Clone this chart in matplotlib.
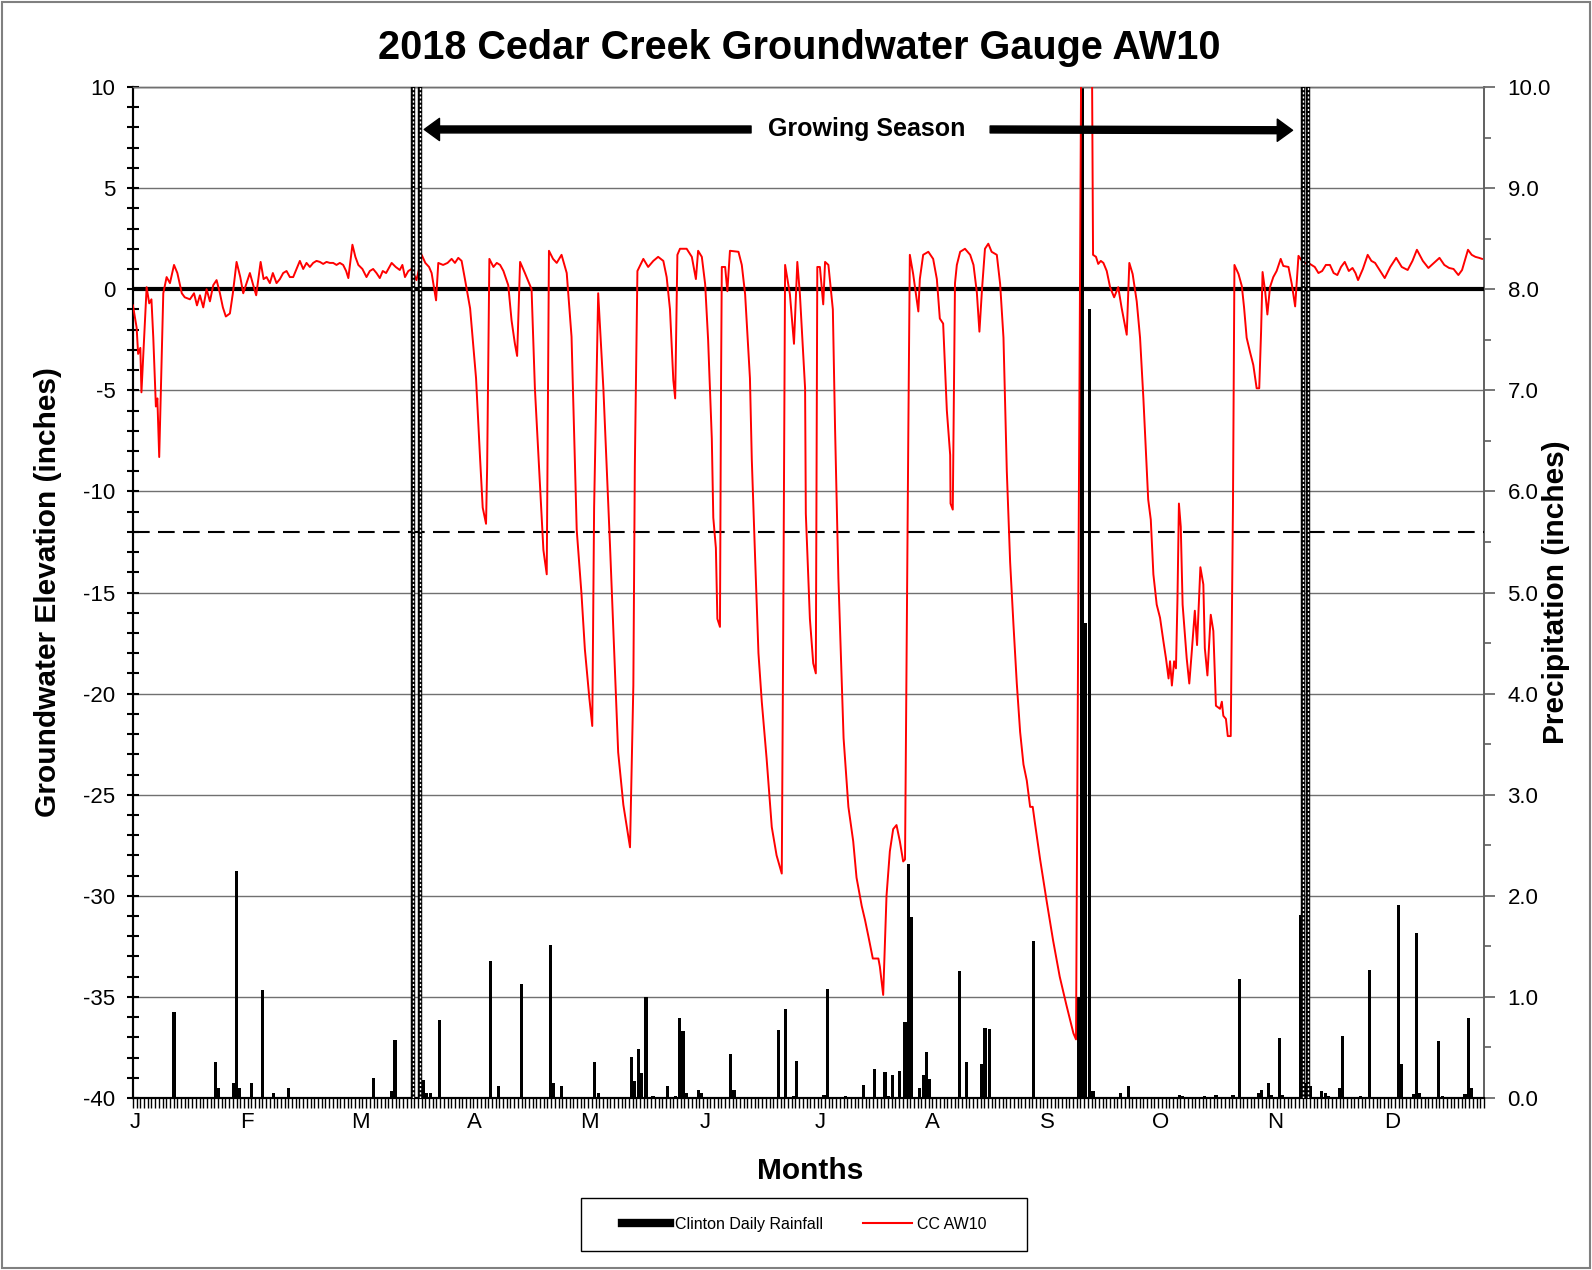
import matplotlib
matplotlib.use('Agg')
import matplotlib.pyplot as plt
from matplotlib.lines import Line2D
from matplotlib.patches import Rectangle
from matplotlib.ticker import MultipleLocator, FixedLocator, FormatStrFormatter
import numpy as np

plt.rcParams['font.family'] = ['Liberation Sans', 'DejaVu Sans']
plt.rcParams['axes.unicode_minus'] = False

# ---------------- data ----------------
month_labels = ['J', 'F', 'M', 'A', 'M', 'J', 'J', 'A', 'S', 'O', 'N', 'D']

gw_day = [0.0, 1.0, 1.4, 2.0, 2.3, 3.7, 4.4, 5.0, 5.5, 6.2, 6.6, 7.1, 8.2, 9.1, 10.0, 11.1, 12.0,
          13.2, 14.0, 15.4, 16.5, 17.3, 18.1, 19.0, 19.9, 20.8, 21.7, 22.6, 23.5, 24.3, 25.1,
          26.2, 27.0, 28.0, 29.0, 29.8, 30.7, 31.6, 32.5, 33.3, 34.5, 35.3, 36.1, 37.0, 37.8,
          38.8, 39.7, 40.6, 41.5, 42.4, 43.3, 44.2, 45.1, 46.0, 46.9, 47.8, 48.7, 49.6, 50.5,
          51.4, 52.3, 53.2, 54.1, 55.0, 55.9, 56.8, 57.6, 58.2, 59.3, 60.1, 60.9, 62.0, 63.1,
          64.0, 64.9, 65.8, 66.7, 67.5, 68.4, 69.9, 71.0, 72.1, 72.8, 73.5, 74.4, 75.3, 76.0,
          76.6, 77.3, 78.0, 79.0, 80.0, 80.7, 81.9, 82.5, 83.8, 85.0, 86.1, 87.0, 87.9, 88.8,
          89.7, 91.1, 92.7, 93.8, 94.5, 95.4, 95.7, 96.3, 97.4, 98.3, 99.2, 100.1, 101.4, 102.3,
          103.2, 103.8, 104.6, 105.9, 106.8, 107.7, 108.6, 110.0, 110.9, 111.8, 112.4, 113.5,
          114.5, 115.8, 117.2, 118.5, 119.9, 121.2, 122.1, 123.3, 124.1, 124.6, 125.7, 127.1,
          128.9, 131.1, 132.5, 134.3, 135.2, 135.6, 136.3, 137.9, 139.2, 140.6, 141.9, 143.3,
          144.2, 145.1, 146.0, 146.5, 147.1, 147.8, 149.6, 151.0, 152.1, 152.7, 153.7, 154.6,
          155.4, 156.4, 156.8, 157.5, 157.9, 158.6, 158.9, 159.1, 160.0, 160.6, 161.3, 163.6,
          164.5, 165.4, 166.7, 167.2, 168.1, 169.0, 169.9, 171.2, 172.6, 173.9, 175.3, 175.7,
          176.2, 177.5, 178.6, 179.5, 180.2, 181.6, 181.8, 182.9, 183.8, 184.5, 184.9, 185.6,
          186.5, 187.0, 187.9, 189.1, 189.7, 190.6, 192.0, 193.3, 194.6, 195.5, 196.9, 197.8,
          198.7, 199.9, 201.4, 201.8, 202.7, 203.6, 204.5, 205.4, 206.3, 207.2, 208.1, 208.6,
          209.5, 209.9, 210.8, 212.2, 212.6, 213.5, 214.9, 216.2, 217.2, 218.0, 218.9, 219.9,
          220.8, 220.9, 221.5, 222.1, 222.6, 223.5, 224.8, 226.2, 227.1, 228.0, 228.7, 229.4,
          230.2, 231.1, 232.0, 233.4, 234.3, 235.2, 236.1, 237.0, 237.9, 238.8, 239.7, 240.6,
          241.5, 242.4, 243.1, 243.7, 245.1, 246.9, 248.6, 250.4, 252.2, 254.1, 254.8, 256.3,
          259.0, 259.4, 260.2, 260.8, 261.5, 262.2, 263.1, 264.0, 265.1, 266.2, 267.1, 268.5,
          269.2, 270.1, 271.2, 272.1, 273.0, 274.3, 275.0, 275.7, 276.6, 277.5, 278.4, 279.1,
          279.8, 280.2, 280.7, 281.3, 281.8, 282.2, 282.6, 283.1, 283.6, 284.7, 285.4, 286.0,
          286.9, 287.5, 288.4, 289.2, 289.6, 290.3, 291.2, 291.9, 292.6, 293.7, 294.2, 294.6,
          295.3, 295.8, 296.6, 297.2, 297.6, 298.7, 299.6, 300.2, 300.9, 301.8, 302.7, 303.6,
          304.3, 304.8, 305.2, 305.9, 306.5, 307.2, 308.1, 309.0, 310.1, 310.8, 312.2, 313.1,
          314.0, 314.9, 316.2, 318.0, 319.3, 320.3, 321.3, 322.3, 323.4, 324.4, 325.4, 326.4,
          327.4, 328.5, 329.5, 330.3, 331.0, 332.3, 333.6, 334.6, 335.6, 337.0, 338.2, 339.7,
          341.3, 342.8, 344.4, 345.7, 346.9, 348.5, 350.0, 351.5, 353.0, 354.3, 355.6, 356.8,
          358.1, 359.1, 360.7, 361.7, 362.7, 363.7, 364.5]
gw_level = [-0.8, -1.9, -3.2, -2.9, -5.1, 0.1, -0.7, -0.5, -2.4, -5.8, -5.4, -8.3, -0.2, 0.6, 0.3, 1.2, 0.8,
            -0.2, -0.4, -0.5, -0.2, -0.8, -0.3, -0.9, 0.0, -0.6, 0.2, 0.45, -0.2, -0.9, -1.35,
            -1.2, -0.2, 1.35, 0.6, -0.2, 0.3, 0.8, 0.2, -0.3, 1.35, 0.5, 0.6, 0.3, 0.8,
            0.3, 0.5, 0.8, 0.9, 0.6, 0.6, 1.0, 1.4, 1.0, 1.3, 1.1, 1.3, 1.4, 1.35,
            1.25, 1.35, 1.3, 1.3, 1.2, 1.3, 1.2, 0.9, 0.55, 2.2, 1.6, 1.2, 1.0, 0.6,
            0.9, 1.0, 0.8, 0.55, 0.9, 0.8, 1.3, 1.1, 0.95, 1.2, 0.6, 0.9, 1.0, 0.7,
            0.45, 1.0, 1.7, 1.3, 1.1, 0.8, -0.55, 1.3, 1.2, 1.3, 1.5, 1.3, 1.55, 1.4,
            0.5, -0.95, -4.4, -8.4, -10.8, -11.6, -8.8, 1.5, 1.1, 1.3, 1.2, 0.9, 0.2, -1.55,
            -2.7, -3.3, 1.35, 0.8, 0.4, 0.0, -4.9, -9.8, -12.9, -14.1, 1.9, 1.5,
            1.3, 1.7, 0.8, -2.35, -11.9, -15.1, -17.8, -20.2, -21.6, -10.8, -0.2, -4.9,
            -12.7, -22.9, -25.5, -27.6, -19.6, -8.8, 0.9, 1.5, 1.1, 1.4, 1.6, 1.4,
            0.6, -1.0, -4.5, -5.4, 1.7, 2.0, 2.0, 1.6, 0.5, 1.9, 1.6, 0.25,
            -2.5, -7.4, -11.3, -12.8, -16.3, -16.7, -4.4, 1.1, 1.1, -0.1, 1.9, 1.85,
            1.2, -0.25, -4.4, -8.4, -13.3, -18.0, -20.4, -23.2, -26.6, -28.0, -28.9, -16.7,
            1.2, -0.25, -2.7, 1.35, -0.25, -4.9, -11.1, -16.3, -18.5, -19.0, 1.1, 1.1,
            -0.75, 1.35, 1.2, -1.0, -6.9, -14.3, -22.2, -25.6, -27.3, -29.1, -30.5, -31.2,
            -32.0, -33.1, -33.1, -33.5, -34.9, -30.0, -27.8, -26.7, -26.5, -27.3, -28.3, -28.2,
            -6.9, 1.7, 0.75, -1.1, 0.5, 1.7, 1.85, 1.5, 0.5, -1.45, -1.7, -6.0,
            -8.2, -10.6, -10.9, 0.3, 1.2, 1.85, 2.0, 1.7, 1.2, -0.15, -2.1, 0.0,
            2.0, 2.25, 1.85, 1.7, 0.25, -2.4, -9.0, -13.5, -16.6, -19.5, -21.9, -23.5,
            -24.3, -25.6, -25.6, -26.4, -28.2, -30.3, -32.2, -34.0, -35.4, -36.8, -37.1, 15.0,
            15.0, 1.7, 1.6, 1.25, 1.4, 1.3, 0.9, 0.1, -0.4, 0.1, -0.9, -2.25,
            1.3, 0.75, -0.6, -2.4, -5.4, -10.4, -11.4, -14.1, -15.6, -16.25, -17.4, -18.25,
            -19.25, -18.4, -19.6, -18.4, -18.75, -15.4, -10.6, -11.75, -15.6, -18.25, -19.5, -18.1,
            -15.9, -17.6, -13.75, -14.6, -17.75, -19.1, -16.1, -16.9, -20.6, -20.75, -20.4, -21.1,
            -21.25, -22.1, -22.1, -10.75, 1.2, 0.75, 0.15, -0.9, -2.4, -3.1, -3.75, -4.9,
            -4.9, -2.1, 0.85, -0.1, -1.25, 0.1, 0.6, 0.9, 1.5, 1.15, 1.1, 0.25,
            -0.85, 1.65, 1.3, 1.25, 1.1, 0.8, 0.9, 1.2, 1.2, 0.8, 0.7, 1.1,
            1.35, 0.9, 1.05, 0.8, 0.45, 1.0, 1.7, 1.4, 1.3, 0.9, 0.55, 1.1,
            1.55, 1.1, 0.95, 1.4, 1.95, 1.4, 1.05, 1.3, 1.55, 1.2, 1.05, 1.0,
            0.7, 0.95, 1.95, 1.7, 1.6, 1.55, 1.5]

rain_day = [11.1, 22.2, 23.1, 27.1, 28.0, 28.9, 32.1, 34.9, 37.9, 42.1, 64.9, 69.9, 70.8, 77.5,
            78.4, 79.4, 80.3, 82.8, 96.7, 98.7, 105.0, 112.9, 113.7, 115.8, 124.6, 125.8, 134.6,
            135.5, 136.5, 137.5, 138.6, 140.5, 144.4, 146.7, 147.6, 148.6, 149.5, 152.7, 153.6,
            161.5, 162.4, 174.5, 176.4, 178.4, 179.3, 186.7, 187.6, 192.6, 197.3, 200.3, 203.2,
            204.2, 205.3, 207.1, 208.6, 209.5, 210.4, 212.4, 213.5, 214.4, 215.3, 223.3, 225.3,
            229.3, 230.2, 231.4, 243.2, 255.5, 256.4, 257.4, 258.4, 259.4, 266.9, 269.0, 282.7,
            283.6, 289.6, 292.6, 297.2, 298.9, 304.1, 305.0, 306.8, 307.7, 309.7, 310.7, 315.4,
            316.3, 317.2, 318.1, 321.2, 322.1, 323.0, 325.9, 326.8, 331.6, 334.0, 341.9, 342.8,
            345.9, 346.8, 347.7, 352.7, 353.8, 359.9, 360.8, 361.7]
rain_in = [0.85, 0.36, 0.10, 0.15, 2.25, 0.10, 0.15, 1.07, 0.05, 0.10, 0.20, 0.07, 0.57, 0.36,
           0.18, 0.05, 0.05, 0.77, 1.36, 0.12, 1.13, 1.51, 0.15, 0.12, 0.36, 0.05, 0.41,
           0.17, 0.49, 0.25, 1.00, 0.02, 0.12, 0.02, 0.79, 0.66, 0.05, 0.08, 0.05,
           0.44, 0.08, 0.67, 0.88, 0.02, 0.37, 0.03, 1.08, 0.02, 0.13, 0.29, 0.26,
           0.02, 0.23, 0.27, 0.75, 2.31, 1.79, 0.10, 0.23, 0.46, 0.19, 1.26, 0.36,
           0.34, 0.69, 0.68, 1.55, 1.00, 12.0, 4.70, 7.80, 0.07, 0.05, 0.12, 0.03,
           0.02, 0.02, 0.03, 0.03, 1.18, 0.05, 0.08, 0.15, 0.03, 0.59, 0.03, 1.81,
           0.15, 0.15, 0.12, 0.07, 0.05, 0.02, 0.10, 0.61, 0.02, 1.27, 1.91, 0.34,
           0.04, 1.63, 0.05, 0.56, 0.02, 0.04, 0.79, 0.10]

growing_start = [75.6, 77.5]
growing_end = [316.2, 317.6]
threshold = -12

# ---------------- figure ----------------
fig = plt.figure(figsize=(15.92, 12.70), dpi=100)
ax = fig.add_axes([0.0835, 0.1354, 0.8486, 0.7961])
ax2 = ax.twinx()
ax.set_zorder(2)
ax2.set_zorder(1)
ax.patch.set_visible(False)

grid_col = '#707070'

# precipitation (right axis, behind)
ax2.set_ylim(0, 10)
ax2.set_axisbelow(True)
ax2.yaxis.grid(True, which='major', color=grid_col, lw=1.0)
ax2.bar(rain_day, rain_in, width=0.85, color='black', align='center', zorder=2)
ax2.yaxis.set_major_locator(MultipleLocator(1))
ax2.yaxis.set_minor_locator(MultipleLocator(0.5))
ax2.yaxis.set_major_formatter(FormatStrFormatter('%.1f'))
ax2.tick_params(axis='y', which='major', direction='out', length=8, width=1.2,
                color='#606060', labelsize=16, pad=9)
ax2.tick_params(axis='y', which='minor', direction='out', length=5, width=1.2, color='#606060')
ax2.set_ylabel('Precipitation (inches)', fontsize=21.5, fontweight='bold', rotation=90)
ax2.yaxis.set_label_coords(1.053, 0.5)
ax2.yaxis.label.set_va('center')
ax2.yaxis.label.set_ha('center')

# groundwater (left axis, on top)
ax.set_xlim(0, 365)
ax.set_ylim(-40, 10)
ax.plot(gw_day, gw_level, color='#ff0000', lw=1.4, zorder=4)
ax.axhline(0, color='black', lw=3.0, zorder=3)
ax.axhline(threshold, color='black', lw=1.5, ls=(0, (8, 4)), zorder=3)

for x in growing_start + growing_end:
    ax.axvline(x, color='black', lw=3.2, zorder=5)
    ax.axvline(x, color='white', lw=1.0, ls=(0, (1.5, 1.5)), zorder=6)

# growing season arrows and label
arrow_kw = dict(facecolor='black', edgecolor='black', width=5, headwidth=16,
                headlength=11, shrink=0)
ax.annotate('', xy=(78.7, 7.9), xytext=(167.0, 7.9), arrowprops=arrow_kw, zorder=6)
ax.annotate('', xy=(313.3, 7.86), xytext=(231.6, 7.9), arrowprops=arrow_kw, zorder=6)
ax.text(198.3, 7.9, 'Growing Season', fontsize=18, fontweight='bold',
        ha='center', va='center', zorder=6)

ax.yaxis.set_major_locator(MultipleLocator(5))
ax.yaxis.set_minor_locator(MultipleLocator(1))
ax.tick_params(axis='y', which='major', direction='inout', length=9, width=1.5,
               labelsize=16, pad=8)
ax.tick_params(axis='y', which='minor', direction='inout', length=8, width=1.5)

month_pos = [0.5, 30.7, 61.4, 92.2, 123.4, 154.5, 185.7, 215.9, 247.2, 277.6, 308.6, 340.2]
ax.xaxis.set_major_locator(FixedLocator(month_pos))
ax.set_xticklabels(month_labels)
ax.xaxis.set_minor_locator(MultipleLocator(1))
ax.tick_params(axis='x', which='major', length=0, labelsize=16, pad=10)
ax.tick_params(axis='x', which='minor', direction='out', length=7, width=1.0)

ax.set_xlabel('Months', fontsize=21.5, fontweight='bold')
ax.xaxis.set_label_coords(0.501, -0.0725)
ax.xaxis.label.set_va('center')

ax.set_ylabel('Groundwater Elevation (inches)', fontsize=21.5, fontweight='bold')
ax.yaxis.set_label_coords(-0.0625, 0.5)
ax.yaxis.label.set_va('center')
ax.yaxis.label.set_ha('center')

for a in (ax, ax2):
    a.spines['top'].set_color(grid_col)
    a.spines['top'].set_linewidth(1.0)
    a.spines['right'].set_color('#606060')
    a.spines['right'].set_linewidth(1.2)
    a.spines['left'].set_color('black')
    a.spines['left'].set_linewidth(1.5)
    a.spines['bottom'].set_color('black')
    a.spines['bottom'].set_linewidth(1.5)

fig.suptitle('2018 Cedar Creek Groundwater Gauge AW10', x=0.502, y=0.962,
             va='center', fontsize=28.5, fontweight='bold')

# legend
handles = [Line2D([0], [0], color='black', lw=6),
           Line2D([0], [0], color='#ff0000', lw=1.5)]
fig.legend(handles, ['Clinton Daily Rainfall', 'CC AW10'], loc='center',
           bbox_to_anchor=(0.505, 0.0358), ncol=2, frameon=False, fontsize=11.5,
           handlelength=3.06, handletextpad=0.3, columnspacing=2.5)
fig.patches.append(Rectangle((0.365, 0.015), 0.28, 0.0417, transform=fig.transFigure,
                             fill=False, edgecolor='black', lw=1.0))
fig.patches.append(Rectangle((0.0015, 0.0015), 0.997, 0.997, transform=fig.transFigure,
                             fill=False, edgecolor='#808080', lw=1.5))

fig.savefig('out.png', dpi=100, facecolor='white')
